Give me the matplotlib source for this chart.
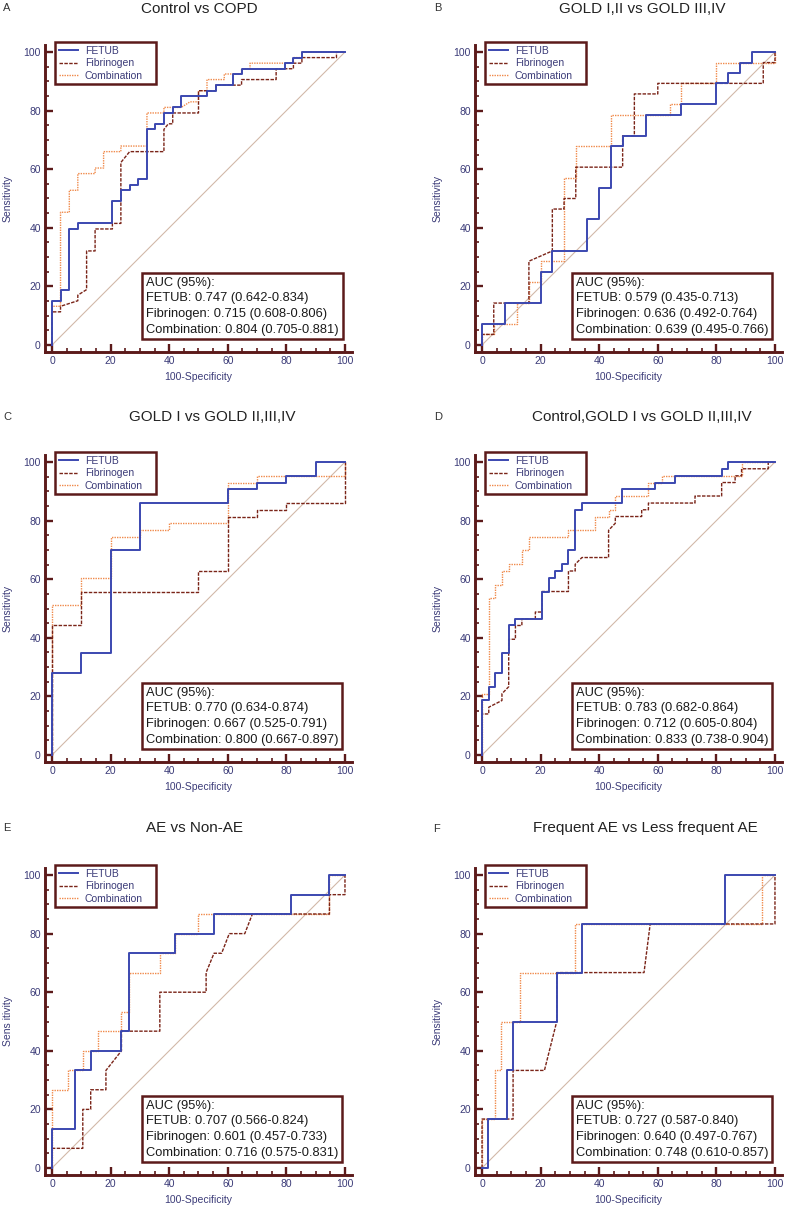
import numpy as np
import matplotlib.pyplot as plt
from matplotlib.ticker import MultipleLocator

plt.rcParams['font.family'] = ['Liberation Sans', 'DejaVu Sans']

# ---- data : ROC curve vertices (100-Specificity, Sensitivity) ----
A_fetub = [(0,0),(0,15.1),(2.9,15.1),(2.9,18.9),(5.9,18.9),(5.9,39.6),(8.8,39.6),(8.8,41.5),(20.6,41.5),(20.6,49.1),
           (23.5,49.1),(23.5,52.8),(26.5,52.8),(26.5,54.7),(29.4,54.7),(29.4,56.6),(32.4,56.6),(32.4,73.6),(35.3,73.6),
           (35.3,75.5),(38.2,75.5),(38.2,79.2),(41.2,79.2),(41.2,81.1),(44.1,81.1),(44.1,84.9),(52.9,84.9),(52.9,86.8),
           (55.9,86.8),(55.9,88.7),(61.8,88.7),(61.8,92.5),(64.7,92.5),(64.7,94.3),(79.4,94.3),(79.4,96.2),(82.4,96.2),
           (82.4,98.1),(85.3,98.1),(85.3,100),(100,100)]
A_fib = [(0,0),(0,11.3),(2.9,11.3),(2.9,13.2),(8.8,15.1),(8.8,17.0),(11.8,18.9),(11.8,32.1),(14.7,32.1),(14.7,39.6),
         (20.6,39.6),(20.6,41.5),(23.5,41.5),(23.5,62.3),(26.5,66.0),(38.2,66.0),(38.2,73.6),(39.7,75.5),(41.2,75.5),
         (41.2,79.2),(50,79.2),(50,86.8),(55.9,86.8),(55.9,88.7),(64.7,88.7),(64.7,90.6),(76.5,90.6),(76.5,94.3),
         (82.4,94.3),(82.4,96.2),(85.3,96.2),(85.3,98.1),(97.1,98.1),(97.1,100),(100,100)]
A_comb = [(0,0),(0,13.2),(2.9,13.2),(2.9,45.3),(5.9,45.3),(5.9,52.8),(8.8,52.8),(8.8,58.5),(14.7,58.5),(14.7,60.4),
          (17.6,60.4),(17.6,66.0),(23.5,66.0),(23.5,67.9),(32.4,67.9),(32.4,79.2),(38.2,79.2),(38.2,81.1),(44.1,81.1),
          (47.1,83.0),(50,83.0),(50,86.8),(52.9,86.8),(52.9,90.6),(58.8,90.6),(58.8,92.5),(64.7,92.5),(64.7,94.3),
          (67.6,94.3),(67.6,96.2),(82.4,96.2),(82.4,98.1),(85.3,98.1),(85.3,100),(100,100)]

B_fetub = [(0,0),(0,7.1),(8,7.1),(8,14.3),(20,14.3),(20,25),(24,25),(24,32.1),(36,32.1),(36,42.9),(40,42.9),(40,53.6),
           (44,53.6),(44,67.9),(48,67.9),(48,71.4),(56,71.4),(56,78.6),(68,78.6),(68,82.1),(80,82.1),(80,89.3),(84,89.3),
           (84,92.9),(88,92.9),(88,96.4),(92,96.4),(92,100),(100,100)]
B_fib = [(0,0),(0,3.6),(4,3.6),(4,14.3),(16,14.3),(16,28.6),(24,32.1),(24,46.4),(28,46.4),(28,50),(32,50),(32,60.7),
         (48,60.7),(48,71.4),(52,71.4),(52,85.7),(60,85.7),(60,89.3),(96,89.3),(96,96.4),(100,96.4),(100,100)]
B_comb = [(0,0),(0,3.6),(4,3.6),(4,7.1),(12,7.1),(12,14.3),(16,14.3),(16,21.4),(20,21.4),(20,28.6),(28,28.6),(28,57.1),
          (32,57.1),(32,67.9),(44,67.9),(44,78.6),(64,78.6),(64,82.1),(68,82.1),(68,89.3),(80,89.3),(80,96.4),(100,96.4),
          (100,100)]

C_fetub = [(0,0),(0,27.9),(10,27.9),(10,34.9),(20,34.9),(20,69.8),(30,69.8),(30,86),(60,86),(60,90.7),(70,90.7),
           (70,93),(80,93),(80,95.3),(90,95.3),(90,100),(100,100)]
C_fib = [(0,0),(0,44.2),(10,44.2),(10,55.8),(50,55.8),(50,62.8),(60,62.8),(60,81.4),(70,81.4),(70,83.7),(80,83.7),
         (80,86),(100,86),(100,100)]
C_comb = [(0,0),(0,51.2),(10,51.2),(10,60.5),(20,60.5),(20,74.4),(30,74.4),(30,76.7),(40,76.7),(40,79.1),(60,79.1),
          (60,93),(70,93),(70,95.3),(100,95.3),(100,100)]

D_fetub = [(0,0),(0,18.6),(2.3,18.6),(2.3,23.3),(4.5,23.3),(4.5,27.9),(6.8,27.9),(6.8,34.9),(9.1,34.9),(9.1,44.2),
           (11.4,44.2),(11.4,46.5),(20.5,46.5),(20.5,55.8),(22.7,55.8),(22.7,60.5),(25,60.5),(25,62.8),(27.3,62.8),
           (27.3,65.1),(29.5,65.1),(29.5,69.8),(31.8,69.8),(31.8,83.7),(34.1,83.7),(34.1,86),(47.7,86),(47.7,90.7),
           (59.1,90.7),(59.1,93),(65.9,93),(65.9,95.3),(81.8,95.3),(81.8,97.7),(84.1,97.7),(84.1,100),(100,100)]
D_fib = [(0,0),(0,14),(2.3,14),(2.3,16.3),(6.8,18.6),(6.8,20.9),(9.1,23.3),(9.1,39.5),(11.4,39.5),(11.4,44.2),
         (13.6,44.2),(13.6,46.5),(18.2,46.5),(18.2,48.8),(20.5,48.8),(20.5,55.8),(29.5,55.8),(29.5,62.8),(31.8,62.8),
         (31.8,65.1),(34.1,67.4),(43.2,67.4),(43.2,76.7),(45.5,79.1),(45.5,81.4),(54.5,81.4),(54.5,83.7),(56.8,83.7),
         (56.8,86),(72.7,86),(72.7,88.4),(81.8,88.4),(81.8,93),(86.4,93),(86.4,95.3),(88.6,95.3),(88.6,97.7),
         (97.7,97.7),(97.7,100),(100,100)]
D_comb = [(0,0),(0,20.9),(2.3,20.9),(2.3,53.5),(4.5,53.5),(4.5,58.1),(6.8,58.1),(6.8,62.8),(9.1,62.8),(9.1,65.1),
          (13.6,65.1),(13.6,69.8),(15.9,69.8),(15.9,74.4),(29.5,74.4),(29.5,76.7),(38.6,76.7),(38.6,81.4),(43.2,81.4),
          (43.2,83.7),(45.5,83.7),(45.5,88.4),(56.8,88.4),(56.8,93),(61.4,93),(61.4,95.3),(88.6,95.3),(88.6,100),(100,100)]

E_fetub = [(0,0),(0,13.3),(7.9,13.3),(7.9,33.3),(13.2,33.3),(13.2,40),(23.7,40),(23.7,46.7),(26.3,46.7),(26.3,73.3),
           (42.1,73.3),(42.1,80),(55.3,80),(55.3,86.7),(81.6,86.7),(81.6,93.3),(94.7,93.3),(94.7,100),(100,100)]
E_fib = [(0,0),(0,6.7),(10.5,6.7),(10.5,20),(13.2,20),(13.2,26.7),(18.4,26.7),(18.4,33.3),(23.7,40),(23.7,46.7),
         (36.8,46.7),(36.8,60),(52.6,60),(52.6,66.7),(55.3,73.3),(57.9,73.3),(60.5,80),(65.8,80),(68.4,86.7),
         (94.7,86.7),(94.7,93.3),(100,93.3),(100,100)]
E_comb = [(0,0),(0,26.7),(5.3,26.7),(5.3,33.3),(10.5,33.3),(10.5,40),(15.8,40),(15.8,46.7),(23.7,46.7),(23.7,53.3),
          (26.3,53.3),(26.3,66.7),(36.8,66.7),(36.8,73.3),(42.1,73.3),(42.1,80),(50,80),(50,86.7),(94.7,86.7),
          (94.7,100),(100,100)]

F_fetub = [(0,0),(2.1,0),(2.1,16.7),(8.5,16.7),(8.5,33.3),(10.6,33.3),(10.6,50),(25.5,50),(25.5,66.7),(34,66.7),
           (34,83.3),(83,83.3),(83,100),(100,100)]
F_fib = [(0,0),(0,16.7),(10.6,16.7),(10.6,33.3),(21.3,33.3),(25.5,50),(25.5,66.7),(55.3,66.7),(57.4,83.3),(100,83.3),
         (100,100)]
F_comb = [(0,0),(0,16.7),(4.3,16.7),(4.3,33.3),(6.4,33.3),(6.4,50),(12.8,50),(12.8,66.7),(31.9,66.7),(31.9,83.3),
          (95.7,83.3),(95.7,100),(100,100)]

letters = ['A', 'B', 'C', 'D', 'E', 'F']
titles = ['Control vs COPD', 'GOLD I,II vs GOLD III,IV', 'GOLD I vs GOLD II,III,IV',
          'Control,GOLD I vs GOLD II,III,IV', 'AE vs Non-AE', 'Frequent AE vs Less frequent AE']
auc_fetub = ['0.747 (0.642-0.834)', '0.579 (0.435-0.713)', '0.770 (0.634-0.874)',
             '0.783 (0.682-0.864)', '0.707 (0.566-0.824)', '0.727 (0.587-0.840)']
auc_fib = ['0.715 (0.608-0.806)', '0.636 (0.492-0.764)', '0.667 (0.525-0.791)',
           '0.712 (0.605-0.804)', '0.601 (0.457-0.733)', '0.640 (0.497-0.767)']
auc_comb = ['0.804 (0.705-0.881)', '0.639 (0.495-0.766)', '0.800 (0.667-0.897)',
            '0.833 (0.738-0.904)', '0.716 (0.575-0.831)', '0.748 (0.610-0.857)']
ylabels = ['Sensitivity'] * 4 + ['Sens itivity', 'Sensitivity']
curves = [(A_fetub, A_fib, A_comb), (B_fetub, B_fib, B_comb), (C_fetub, C_fib, C_comb),
          (D_fetub, D_fib, D_comb), (E_fetub, E_fib, E_comb), (F_fetub, F_fib, F_comb)]

# ---- style ----
MAROON = '#5c1a1a'
NAVY = '#3b3b78'
C_FETUB = '#3b48b0'
C_FIB = '#7a2418'
C_COMB = '#f08a4b'
C_DIAG = '#d2b9a9'

W, H = 787, 1207
fig = plt.figure(figsize=(W / 100, H / 100), dpi=100)

# pixel layout of the six panels (left spine x, bottom spine y)
lefts = [45, 475]
bottoms = [352, 762, 1175]
size = 307
title_pos = [(199, 9), (642, 9), (212, 417), (642, 417), (194, 828), (645, 828)]
letter_pos = [(3, 8), (434, 8), (3, 417), (434, 417), (3, 828), (433, 829)]

for i in range(6):
    col, row = i % 2, i // 2
    ax = fig.add_axes([lefts[col] / W, (H - bottoms[row]) / H, size / W, size / H])
    ax.set_xlim(-2.4, 102.4)
    ax.set_ylim(-2.4, 102.4)

    ax.plot([0, 100], [0, 100], color=C_DIAG, lw=0.8, zorder=1)
    fe, fi, co = curves[i]
    x, y = np.array(co).T
    ax.plot(x, y, color=C_COMB, lw=1.0, ls=(0, (1, 0.8)), label='Combination', zorder=2)
    x, y = np.array(fi).T
    ax.plot(x, y, color=C_FIB, lw=1.0, ls=(0, (2.5, 1)), label='Fibrinogen', zorder=3)
    x, y = np.array(fe).T
    ax.plot(x, y, color=C_FETUB, lw=1.4, label='FETUB', zorder=4)

    for s in ['top', 'right']:
        ax.spines[s].set_visible(False)
    for s in ['left', 'bottom']:
        ax.spines[s].set_color(MAROON)
        ax.spines[s].set_linewidth(2.1)

    ax.xaxis.set_major_locator(MultipleLocator(20))
    ax.yaxis.set_major_locator(MultipleLocator(20))
    ax.xaxis.set_minor_locator(MultipleLocator(5))
    ax.yaxis.set_minor_locator(MultipleLocator(5))
    ax.tick_params(which='major', direction='in', length=5.5, width=1.7, color=MAROON,
                   labelsize=7.5, labelcolor=NAVY, pad=3)
    ax.tick_params(which='minor', direction='in', length=3, width=1.2, color=MAROON)
    ax.set_xticks([0, 20, 40, 60, 80, 100])
    ax.set_yticks([0, 20, 40, 60, 80, 100])

    ax.set_xlabel('100-Specificity', fontsize=7.5, color=NAVY)
    ax.set_ylabel(ylabels[i], fontsize=7.5, color=NAVY)
    ax.xaxis.set_label_coords(0.5, -0.066)
    ax.yaxis.set_label_coords(-0.105, 0.5)

    h, l = ax.get_legend_handles_labels()
    leg = ax.legend(h[::-1], l[::-1], loc='upper left', bbox_to_anchor=(0.033, 0.86, 0.329, 0.15),
                    mode='expand', borderaxespad=0, fontsize=7.5, frameon=True, fancybox=False,
                    framealpha=1, edgecolor=MAROON, handlelength=1.8, handletextpad=0.7,
                    borderpad=0.35, labelspacing=0.25)
    leg.get_frame().set_linewidth(1.8)
    for t in leg.get_texts():
        t.set_color(NAVY)

    txt = ('AUC (95%):\nFETUB: ' + auc_fetub[i] + '\nFibrinogen: ' + auc_fib[i] +
           '\nCombination: ' + auc_comb[i])
    ax.text(32.1, 3.2, txt, fontsize=9.3, color='#1a1a1a', ha='left', va='bottom', linespacing=1.4,
            bbox=dict(boxstyle='square,pad=0.3', fc='white', ec=MAROON, lw=1.8), zorder=6)

    tx, ty = title_pos[i]
    fig.text(tx / W, 1 - ty / H, titles[i], fontsize=11, color='#222222', ha='center', va='center')
    lx, ly = letter_pos[i]
    fig.text(lx / W, 1 - ly / H, letters[i], fontsize=8, color='#333333', ha='left', va='center')

fig.savefig('out.png', dpi=100)
